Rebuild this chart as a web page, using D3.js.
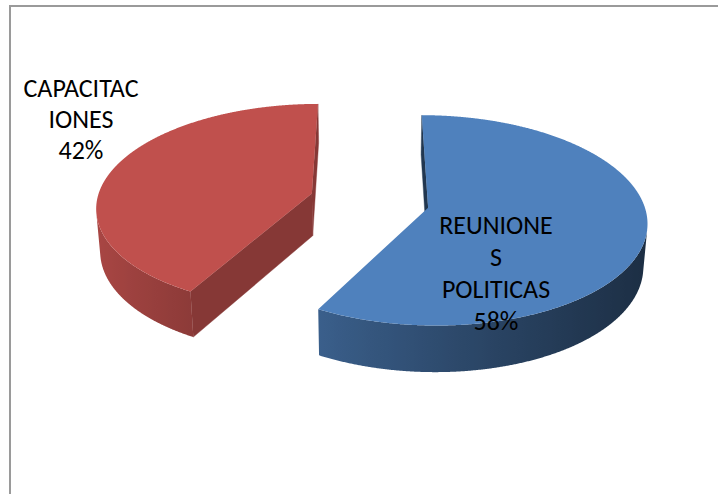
<!DOCTYPE html>
<html>
<head>
<meta charset="utf-8">
<script src="https://cdn.jsdelivr.net/npm/d3@7"></script>
<style>
  html, body { margin: 0; padding: 0; background: #ffffff; }
  svg { display: block; }
</style>
</head>
<body>
<svg id="chart" width="718" height="494"></svg>
<script>
// ---- data ----
const categories = ["REUNIONES POLITICAS", "CAPACITACIONES"];
const values = [58, 42];
const labelLines = [["REUNIONE", "S", "POLITICAS"], ["CAPACITAC", "IONES"]];

// ---- styles ----
const topColors = ["#4F81BD", "#C0504D"];
const cutDarkness = [2.4, 1.0];
const labelFont = "Carlito, Calibri, Lato, sans-serif";

const svg = d3.select("#chart");
const defs = svg.append("defs");

// chart area frame (only top and left edges fall inside the view)
svg.append("path")
  .attr("d", "M10,494 V6 H718")
  .attr("fill", "none")
  .attr("stroke", "#9a9a9a")
  .attr("stroke-width", 2);

// ---- 3D view of the pie ----
const cx = 369.5, cy = 200.5;     // screen position of the pie centre
const R = 215;                    // radius
const explode = 60;               // slice explosion distance
const thick = 49;                 // slab thickness
const sinT = 0.474, cosT = Math.sqrt(1 - sinT * sinT);   // elevation
const dist = 1577;                // camera distance (perspective)
const cam = [0, -dist * cosT, dist * sinT];

// world (X right, Y away from viewer, Z up) -> screen
function project(X, Y, Z) {
  const v = Y * sinT + Z * cosT;
  const w = dist + Y * cosT - Z * sinT;
  const k = dist / w;
  return [cx + X * k, cy - v * k];
}

const pie = d3.pie().sort(null).value(d => d);
const arcs = pie(values);
const line = d3.line();

function wallShade(base, theta) {
  // light comes from the left: darker as the wall turns to the right
  const t = (1 - Math.cos(theta - 1.5 * Math.PI)) / 2;
  return d3.rgb(base).darker(0.35 + 2.6 * Math.pow(t, 1.2)).formatHex();
}

arcs.forEach((a, i) => {
  const base = topColors[i];
  const mid = (a.startAngle + a.endAngle) / 2;
  const ax = explode * Math.sin(mid), ay = explode * Math.cos(mid);
  const rim = (th, z) => project(ax + R * Math.sin(th), ay + R * Math.cos(th), z);
  const apex = z => project(ax, ay, z);
  const g = svg.append("g").attr("class", "slice");

  const step = Math.PI / 720;
  const n = Math.max(2, Math.ceil((a.endAngle - a.startAngle) / step));
  const thetas = d3.range(n + 1).map(j => a.startAngle + (a.endAngle - a.startAngle) * j / n);

  // radial cut faces, drawn when they face the camera
  [[a.startAngle, -1], [a.endAngle, 1]].forEach(([ang, sgn]) => {
    const nx = sgn * Math.cos(ang), ny = -sgn * Math.sin(ang);
    const facing = nx * (cam[0] - ax) + ny * (cam[1] - ay) > 0;
    if (!facing) return;
    const pts = [apex(0), rim(ang, 0), rim(ang, -thick), apex(-thick)];
    g.append("path")
      .attr("d", line(pts) + "Z")
      .attr("fill", d3.rgb(base).darker(cutDarkness[i]).formatHex())
      .attr("stroke", d3.rgb(base).darker(cutDarkness[i]).formatHex())
      .attr("stroke-width", 0.4);
  });

  // outer wall: contiguous runs of camera-facing rim
  const visible = thetas.map(th => {
    const px = ax + R * Math.sin(th), py = ay + R * Math.cos(th);
    return Math.sin(th) * (cam[0] - px) + Math.cos(th) * (cam[1] - py) > 0;
  });
  const runs = [];
  let cur = null;
  thetas.forEach((th, j) => {
    if (visible[j]) { if (!cur) { cur = []; runs.push(cur); } cur.push(th); }
    else cur = null;
  });
  runs.forEach((run, r) => {
    if (run.length < 2) return;
    const topPts = run.map(th => rim(th, 0));
    const botPts = run.map(th => rim(th, -thick)).reverse();
    const xs = topPts.map(p => p[0]);
    const x1 = d3.min(xs), x2 = d3.max(xs);
    const gid = `wall-${i}-${r}`;
    const grad = defs.append("linearGradient")
      .attr("id", gid).attr("gradientUnits", "userSpaceOnUse")
      .attr("x1", x1).attr("x2", x2).attr("y1", 0).attr("y2", 0);
    const stops = run.filter((_, j) => j % 8 === 0 || j === run.length - 1)
      .map(th => ({ off: (rim(th, 0)[0] - x1) / Math.max(1e-6, x2 - x1), col: wallShade(base, th) }))
      .sort((p, q) => p.off - q.off);
    grad.selectAll("stop").data(stops).join("stop")
      .attr("offset", d => d.off).attr("stop-color", d => d.col);
    g.append("path")
      .attr("d", line(topPts.concat(botPts)) + "Z")
      .attr("fill", `url(#${gid})`);
  });

  // top face
  const topFace = [apex(0)].concat(thetas.map(th => rim(th, 0)));
  g.append("path")
    .attr("d", line(topFace) + "Z")
    .attr("fill", base);
});

// ---- data labels ----
const total = d3.sum(values);
const labelPos = [
  { x: 496, y: 234, gap: 32 },
  { x: 81, y: 96.5, gap: 31 }
];
values.forEach((v, i) => {
  const lines = labelLines[i].concat([Math.round(100 * v / total) + "%"]);
  const t = svg.append("text")
    .attr("font-family", labelFont)
    .attr("font-size", 26)
    .attr("fill", "#000000")
    .attr("text-anchor", "middle");
  lines.forEach((s, j) => {
    t.append("tspan")
      .attr("x", labelPos[i].x)
      .attr("y", labelPos[i].y + j * labelPos[i].gap)
      .text(s);
  });
});
</script>
</body>
</html>
